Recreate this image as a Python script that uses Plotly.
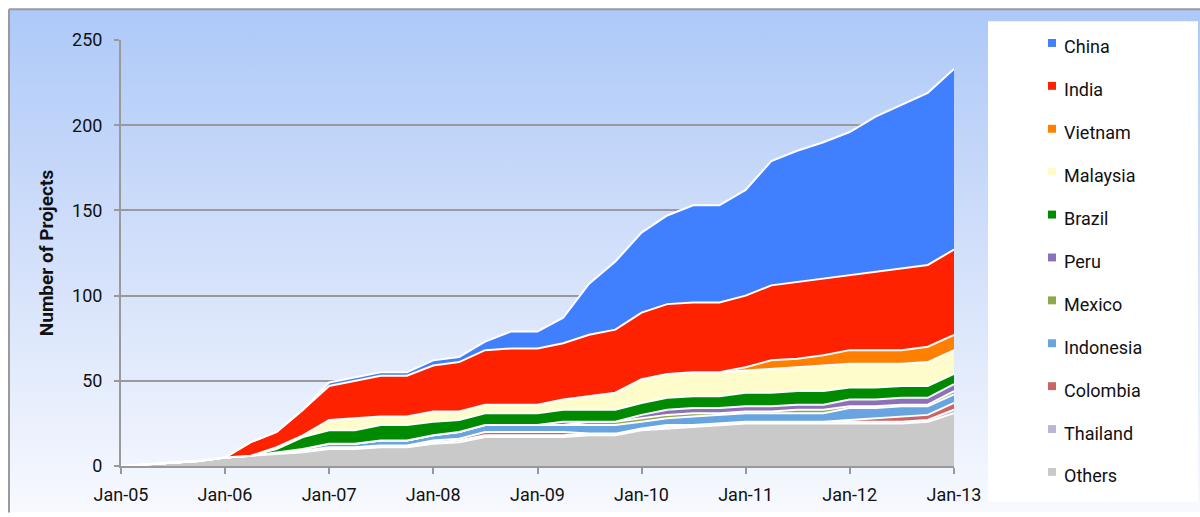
import base64
import plotly.graph_objects as go

dates = [
    "2005-01-01", "2005-04-01", "2005-07-01", "2005-10-01",
    "2006-01-01", "2006-04-01", "2006-07-01", "2006-10-01",
    "2007-01-01", "2007-04-01", "2007-07-01", "2007-10-01",
    "2008-01-01", "2008-04-01", "2008-07-01", "2008-10-01",
    "2009-01-01", "2009-04-01", "2009-07-01", "2009-10-01",
    "2010-01-01", "2010-04-01", "2010-07-01", "2010-10-01",
    "2011-01-01", "2011-04-01", "2011-07-01", "2011-10-01",
    "2012-01-01", "2012-04-01", "2012-07-01", "2012-10-01",
    "2013-01-01",
]

others    = [0, 1, 2, 3, 5, 6, 7, 8, 10, 10, 11, 11, 13, 14, 17, 17, 17, 17, 18, 18, 21, 22, 23, 24, 25, 25, 25, 25, 25, 25, 25, 26, 31]
thailand  = [0, 0, 0, 0, 0, 0, 1, 1, 1, 1, 1, 1, 1, 1, 1, 1, 1, 1, 1, 1, 1, 1, 1, 1, 1, 1, 1, 1, 1, 1, 1, 1, 2]
colombia  = [0, 0, 0, 0, 0, 0, 0, 0, 0, 0, 0, 0, 1, 1, 2, 2, 2, 2, 0, 0, 0, 1, 0, 0, 0, 0, 0, 0, 1, 2, 3, 3, 4]
indonesia = [0, 0, 0, 0, 0, 0, 0, 1, 2, 2, 3, 3, 3, 4, 4, 4, 4, 4, 5, 5, 4, 4, 5, 5, 5, 5, 5, 5, 7, 6, 6, 5, 5]
mexico    = [0, 0, 0, 0, 0, 0, 0, 0, 0, 0, 0, 0, 0, 0, 0, 0, 0, 0, 2, 2, 2, 2, 2, 1, 1, 1, 2, 2, 1, 1, 1, 1, 2]
peru      = [0, 0, 0, 0, 0, 0, 0, 0, 0, 0, 0, 0, 0, 0, 0, 0, 0, 2, 0, 0, 2, 3, 3, 3, 3, 3, 3, 3, 4, 4, 4, 4, 4]
brazil    = [0, 0, 0, 0, 0, 0, 2, 7, 8, 8, 9, 9, 8, 7, 7, 7, 7, 7, 7, 7, 7, 7, 7, 7, 8, 8, 8, 8, 7, 7, 7, 7, 6]
malaysia  = [0, 0, 0, 0, 0, 0, 1, 1, 6, 7, 5, 5, 6, 5, 5, 5, 5, 6, 8, 10, 14, 14, 14, 14, 13, 14, 14, 15, 14, 14, 13, 14, 14]
vietnam   = [0, 0, 0, 0, 0, 0, 0, 0, 0, 0, 0, 0, 0, 0, 0, 0, 0, 0, 0, 0, 0, 0, 0, 0, 2, 5, 5, 6, 8, 8, 8, 9, 9]
india     = [0, 0, 0, 0, 0, 8, 9, 15, 20, 22, 24, 24, 27, 29, 32, 33, 33, 33, 36, 37, 39, 41, 41, 41, 42, 44, 45, 45, 44, 46, 48, 48, 50]
china     = [0, 0, 0, 0, 0, 0, 0, 0, 2, 2, 2, 2, 3, 3, 5, 10, 10, 15, 30, 40, 47, 52, 57, 57, 62, 73, 77, 80, 84, 91, 96, 101, 106]

# bottom -> top stacking order
series = [
    ("Others", others, "#c9c9c9"),
    ("Thailand", thailand, "#bdb5d8"),
    ("Colombia", colombia, "#cc6464"),
    ("Indonesia", indonesia, "#68a4e0"),
    ("Mexico", mexico, "#8ea84c"),
    ("Peru", peru, "#8c70b8"),
    ("Brazil", brazil, "#008a00"),
    ("Malaysia", malaysia, "#fffccc"),
    ("Vietnam", vietnam, "#ff7f00"),
    ("India", india, "#ff2200"),
    ("China", china, "#4080ff"),
]

FONT = "Roboto, Liberation Sans, sans-serif"

fig = go.Figure()
for name, vals, col in series:
    fig.add_trace(go.Scatter(
        x=dates, y=vals, name=name, stackgroup="one", mode="lines",
        line=dict(color="white", width=2), fillcolor=col,
        showlegend=False, hoverinfo="x+y+name",
    ))

# plot area geometry (pixels)
W, H = 1200, 517
L, R, T, B = 121, 954, 40, 470
PW, PH = R - L, B - T

def px(x):
    return (x - L) / PW

def py(y):
    return (B - y) / PH

svg = ('<svg xmlns="http://www.w3.org/2000/svg" width="1200" height="517" preserveAspectRatio="none">'
       '<defs><linearGradient id="g" x1="0" y1="0" x2="0" y2="1">'
       '<stop offset="0" stop-color="#adc9f8"/>'
       '<stop offset="0.45" stop-color="#d0defa"/>'
       '<stop offset="1" stop-color="#f7f9fe"/>'
       '</linearGradient></defs>'
       '<rect width="1200" height="517" fill="url(#g)"/></svg>')
src = "data:image/svg+xml;base64," + base64.b64encode(svg.encode()).decode()

shapes = [
    # outer frame (left and top edges visible in the crop)
    dict(type="line", xref="paper", yref="paper",
         x0=px(9), x1=px(9), y0=py(H), y1=py(9),
         line=dict(color="#9a9a9a", width=2), layer="below"),
    dict(type="line", xref="paper", yref="paper",
         x0=px(9), x1=px(W), y0=py(9), y1=py(9),
         line=dict(color="#9a9a9a", width=2), layer="below"),
    # legend panel
    dict(type="rect", xref="paper", yref="paper",
         x0=px(988), x1=px(1198), y0=py(506), y1=py(21),
         line=dict(width=0), fillcolor="white", layer="below"),
]
annotations = []

# legend (top -> bottom)
row0, rowgap = 47, 43.3
for i, (name, vals, col) in enumerate(reversed(series)):
    yc = row0 + rowgap * i
    shapes.append(dict(type="rect", xref="paper", yref="paper",
                       x0=px(1048), x1=px(1056), y0=py(yc), y1=py(yc - 8),
                       line=dict(width=0), fillcolor=col, layer="above"))
    annotations.append(dict(text=name, xref="paper", yref="paper",
                            x=px(1062), y=py(yc), xanchor="left", yanchor="middle",
                            showarrow=False, font=dict(family=FONT, size=18, color="#111111")))

fig.update_layout(
    width=W, height=H, autosize=False,
    margin=dict(l=L, r=W - R, t=T, b=H - B),
    paper_bgcolor="white", plot_bgcolor="rgba(0,0,0,0)",
    font=dict(family=FONT, size=18, color="#111111"),
    showlegend=False,
    images=[dict(source=src, xref="paper", yref="paper",
                 x=px(9), y=py(9), sizex=(W - 9) / PW, sizey=(H - 9) / PH,
                 xanchor="left", yanchor="top", sizing="stretch", layer="below")],
    shapes=shapes,
    annotations=annotations,
    xaxis=dict(
        type="date", range=["2005-01-01", "2013-01-01"],
        tick0="2005-01-01", dtick="M12", tickformat="%b-%y",
        showgrid=False, showline=True, linecolor="#999999", linewidth=2,
        ticks="outside", ticklen=6, tickwidth=2, tickcolor="#999999",
        tickfont=dict(size=18), zeroline=False, ticklabelstandoff=5,
    ),
    yaxis=dict(
        range=[0, 250], tickvals=[0, 50, 100, 150, 200, 250],
        showgrid=True, gridcolor="#9a9a9a", gridwidth=2,
        showline=True, linecolor="#999999", linewidth=2,
        ticks="outside", ticklen=5, tickwidth=2, tickcolor="#999999",
        tickfont=dict(size=18), zeroline=False, ticklabelstandoff=8,
        title=dict(text="<b>Number of Projects</b>", font=dict(size=19), standoff=13),
    ),
)

fig.write_html("out.html", config={"displayModeBar": False},
               post_script="document.body.style.margin='0px';document.body.style.overflow='hidden';")
